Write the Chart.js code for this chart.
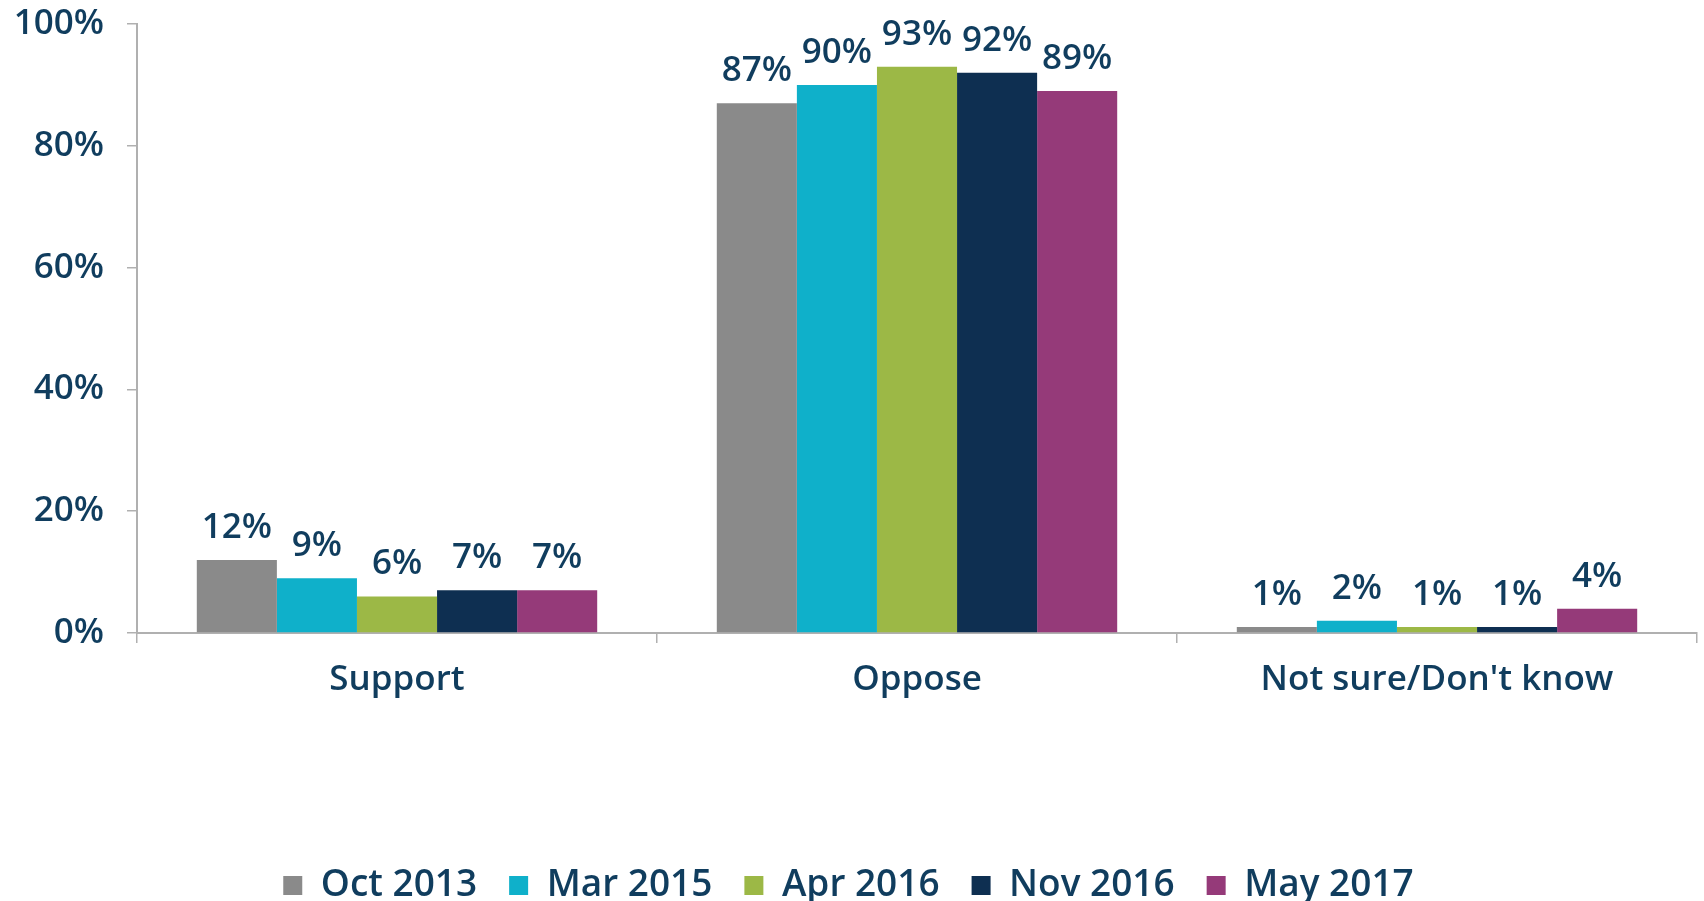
<!DOCTYPE html>
<html>
<head>
<meta charset="utf-8">
<title>Support / Oppose</title>
<script src="https://cdn.jsdelivr.net/npm/chart.js@4/dist/chart.umd.min.js"></script>
<style>
    html, body { margin: 0; padding: 0; background: #fff; }
    #wrap { width: 1704px; height: 901px; }
</style>
</head>
<body>
<div id="wrap"><canvas id="surveyChart" width="1704" height="901"></canvas></div>
<script>
const categories = ['Support', 'Oppose', "Not sure/Don't know"];
const waves = ['Oct 2013', 'Mar 2015', 'Apr 2016', 'Nov 2016', 'May 2017'];
const oct2013 = [12, 87, 1];
const mar2015 = [9, 90, 2];
const apr2016 = [6, 93, 1];
const nov2016 = [7, 92, 1];
const may2017 = [7, 89, 4];
const waveColors = ['#8a8a8a', '#0fb0ca', '#9cb846', '#0e2f51', '#953a79'];
const yTicks = [0, 20, 40, 60, 80, 100];

const textColor = '#103d5e';
const axisColor = '#b0b0b0';
const fontFamily = '"Open Sans", "Noto Sans", sans-serif';

// draws the % value above each bar
const valueLabels = {
    id: 'valueLabels',
    afterDatasetsDraw: function (chart) {
        const ctx = chart.ctx;
        ctx.save();
        ctx.font = '600 35px ' + fontFamily;
        ctx.fillStyle = textColor;
        ctx.textAlign = 'center';
        ctx.textBaseline = 'alphabetic';
        chart.data.datasets.forEach(function (ds, i) {
            chart.getDatasetMeta(i).data.forEach(function (bar, j) {
                ctx.fillText(ds.data[j] + '%', bar.x, bar.y - 22);
            });
        });
        ctx.restore();
    }
};

const seriesValues = [oct2013, mar2015, apr2016, nov2016, may2017];
const datasets = waves.map(function (name, i) {
    return {
        label: name,
        data: seriesValues[i],
        backgroundColor: waveColors[i],
        borderWidth: 0,
        categoryPercentage: 0.77,
        barPercentage: 1
    };
});

new Chart('surveyChart', {
    type: 'bar',
    data: { labels: categories, datasets: datasets },
    plugins: [valueLabels],
    options: {
        responsive: false,
        animation: false,
        layout: { padding: { top: 24, right: 7, bottom: -13, left: 0 } },
        plugins: {
            tooltip: { enabled: false },
            legend: {
                position: 'bottom',
                labels: {
                    boxWidth: 19,
                    boxHeight: 19,
                    padding: 32,
                    color: textColor,
                    font: { family: fontFamily, size: 37, weight: '600' }
                }
            }
        },
        scales: {
            x: {
                afterFit: function (scale) { scale.height = 202; },
                border: { color: axisColor, width: 2 },
                grid: { drawOnChartArea: false, drawTicks: true, tickLength: 10, color: axisColor, lineWidth: 1.5 },
                ticks: {
                    padding: 16,
                    color: textColor,
                    font: { family: fontFamily, size: 35, weight: '600' }
                }
            },
            y: {
                min: 0,
                max: 100,
                afterFit: function (scale) {
                    scale.width = 137;
                    scale.paddingTop = 0;
                    scale.paddingBottom = 0;
                },
                afterBuildTicks: function (scale) {
                    scale.ticks = yTicks.map(function (v) { return { value: v }; });
                },
                border: { color: axisColor, width: 2 },
                grid: { drawOnChartArea: false, drawTicks: true, tickLength: 10, color: axisColor, lineWidth: 1.5 },
                ticks: {
                    padding: 23,
                    color: textColor,
                    font: { family: fontFamily, size: 35, weight: '600' },
                    callback: function (v) { return v + '%'; }
                }
            }
        }
    }
});
</script>
</body>
</html>
